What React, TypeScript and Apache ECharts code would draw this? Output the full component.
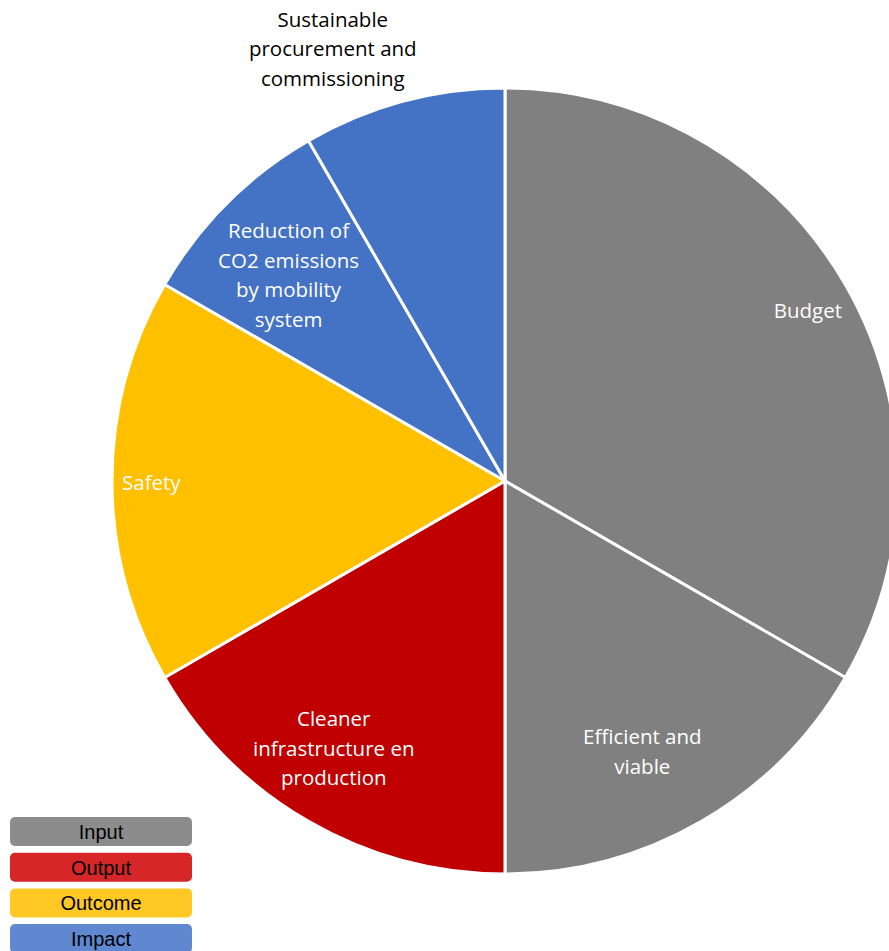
import React, { useEffect, useRef } from "react";
import * as echarts from "echarts";

const categories = [
  "Budget",
  "Efficient and\nviable",
  "Cleaner\ninfrastructure en\nproduction",
  "Safety",
  "Reduction of\nCO2 emissions\nby mobility\nsystem",
  "Sustainable\nprocurement and\ncommissioning",
];
const values = [4, 2, 2, 2, 1, 1];
const sliceColors = ["#808080", "#808080", "#C00000", "#FFC000", "#4472C4", "#4472C4"];
const labelColors = ["#FFFFFF", "#FFFFFF", "#FFFFFF", "#FFFFFF", "#FFFFFF", "#000000"];

const legendLabels = ["Input", "Output", "Outcome", "Impact"];
const legendColors = ["#8C8C8C", "#D62628", "#FFC825", "#5F88D0"];

// label placement (fraction of radius, angle shift in degrees) per slice
const labelRadius = [0.882, 0.775, 0.811, 0.9, 0.758, 1.18];
const labelAngleShift = [0.9, 3.2, 2.5, -0.5, -1.6, -6.8];

const CX = 505;
const CY = 481;
const R = 393;

export default function App() {
  const ref = useRef<HTMLDivElement>(null);
  useEffect(() => {
    document.body.style.margin = "0";
    const chart = echarts.init(ref.current!, undefined, { renderer: "svg" });
    const total = values.reduce((a, b) => a + b, 0);
    const mids: number[] = [];
    let acc = 0;
    values.forEach((v) => {
      mids.push(((acc + v / 2) / total) * 360);
      acc += v;
    });

    const legendGraphics: any[] = [];
    legendLabels.forEach((t, i) => {
      const top = 817 + i * 35.7;
      legendGraphics.push({
        type: "rect",
        shape: { x: 10, y: top, width: 182, height: 29, r: 5 },
        style: { fill: legendColors[i] },
      });
      legendGraphics.push({
        type: "text",
        x: 101,
        y: top + 15,
        style: {
          text: t,
          fill: "#000",
          font: '20px "Liberation Sans", Arial, sans-serif',
          align: "center",
          verticalAlign: "middle",
        },
      });
    });

    chart.setOption({
      animation: false,
      backgroundColor: "#FFFFFF",
      graphic: legendGraphics,
      series: [
        {
          type: "pie",
          center: [CX, CY],
          radius: R,
          startAngle: 90,
          clockwise: true,
          avoidLabelOverlap: false,
          itemStyle: { borderColor: "#FFFFFF", borderWidth: 3 },
          emphasis: { disabled: true },
          labelLine: { show: false },
          label: {
            show: true,
            position: "inside",
            fontFamily: "'Open Sans', 'Noto Sans', sans-serif",
            fontSize: 20.5,
            lineHeight: 29.5,
            align: "center",
          },
          labelLayout: (params: any) => {
            const i = params.dataIndex;
            const a = ((mids[i] + labelAngleShift[i]) * Math.PI) / 180;
            const rr = labelRadius[i] * R;
            return {
              x: CX + rr * Math.sin(a),
              y: CY - 2 - rr * Math.cos(a),
              align: "center",
              verticalAlign: "middle",
            };
          },
          data: categories.map((name, i) => ({
            name,
            value: values[i],
            itemStyle: { color: sliceColors[i] },
            label: { color: labelColors[i] },
          })),
        },
      ],
    });
    return () => chart.dispose();
  }, []);
  return <div ref={ref} style={{ width: 889, height: 951 }} />;
}
